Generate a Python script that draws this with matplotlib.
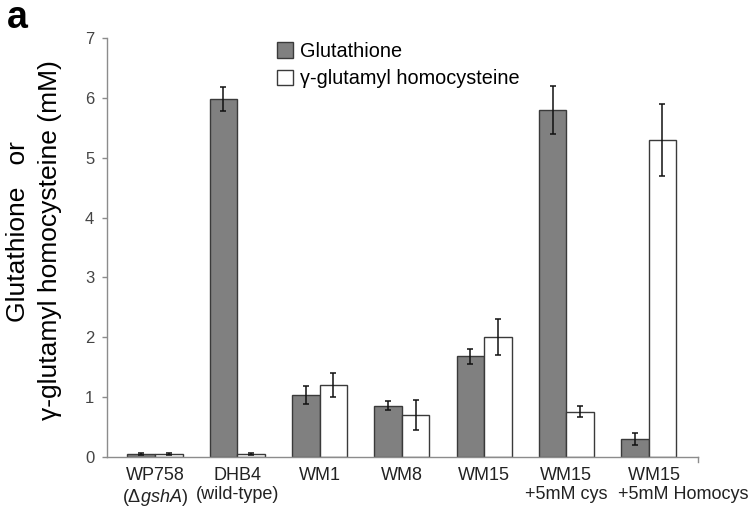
import matplotlib
matplotlib.use("Agg")
import matplotlib.pyplot as plt
import matplotlib.transforms as mtransforms
import numpy as np

plt.rcParams['font.family'] = ['Liberation Sans', 'DejaVu Sans']
plt.rcParams['mathtext.fontset'] = 'custom'
plt.rcParams['mathtext.it'] = 'Liberation Sans:italic'
plt.rcParams['mathtext.rm'] = 'Liberation Sans'

categories = ["WP758\n(Δ$\\it{gshA}$)", "DHB4\n(wild-type)", "WM1", "WM8", "WM15",
              "WM15\n+5mM cys", "  WM15\n+5mM Homocys"]
glutathione = [0.05, 5.98, 1.03, 0.86, 1.68, 5.80, 0.30]
glutathione_err = [0.02, 0.20, 0.15, 0.08, 0.12, 0.40, 0.10]
homocysteine = [0.05, 0.05, 1.20, 0.70, 2.00, 0.76, 5.30]
homocysteine_err = [0.01, 0.01, 0.20, 0.25, 0.30, 0.09, 0.60]
yticks = [0, 1, 2, 3, 4, 5, 6, 7]

fig = plt.figure(figsize=(7.55, 5.08), dpi=100)
ax = fig.add_axes([107/755, 1-457/508, (698-107)/755, (457-38)/508])

x = np.arange(len(categories))
w = 0.335
edge = '#3a3a3a'
ax.bar(x - w/2, glutathione, w, color='#808080', edgecolor=edge, linewidth=1.0,
       label='Glutathione', zorder=2)
ax.bar(x + w/2, homocysteine, w, color='white', edgecolor=edge, linewidth=1.0,
       label='γ-glutamyl homocysteine', zorder=2)
ax.errorbar(x - w/2, glutathione, yerr=glutathione_err, fmt='none', ecolor='#111111',
            elinewidth=1.1, capsize=2.3, capthick=1.1, zorder=3)
ax.errorbar(x + w/2, homocysteine, yerr=homocysteine_err, fmt='none', ecolor='#111111',
            elinewidth=1.1, capsize=2.3, capthick=1.1, zorder=3)

ax.set_xlim(-0.583, 6.6)
ax.set_ylim(0, 7)
ax.set_yticks(yticks)
ax.set_yticklabels([str(t) for t in yticks])
ax.set_xticks(x)
ax.set_xticklabels(categories)

for s in ['top', 'right']:
    ax.spines[s].set_visible(False)
for s in ['left', 'bottom']:
    ax.spines[s].set_color('#8c8c8c')
    ax.spines[s].set_linewidth(1.0)

ax.tick_params(axis='y', length=3.6, width=1.0, color='#8c8c8c', pad=5.5,
               labelsize=12, labelcolor='#444444')
ax.tick_params(axis='x', length=0, pad=7, labelsize=13, labelcolor='#222222')

labels = ax.get_xticklabels()
last = labels[-1]
last.set_horizontalalignment('left')
last.set_multialignment('left')
offset = mtransforms.ScaledTranslation(-31/100, 0, fig.dpi_scale_trans)
last.set_transform(last.get_transform() + offset)
for lab in labels[:-1]:
    lab.set_multialignment('center')

# end tick on x axis
ax.plot([1, 1], [0, -0.013], transform=ax.transAxes, color='#8c8c8c', lw=1.0,
        clip_on=False)

leg = ax.legend(loc='upper left', bbox_to_anchor=(277/755, 1-42/508),
                bbox_transform=fig.transFigure, frameon=False, fontsize=14.3,
                handlelength=0.82, handleheight=0.82, handletextpad=0.35,
                labelspacing=0.42, borderpad=0, borderaxespad=0)

fig.text(18/755, 1-232/508, 'Glutathione   or', rotation=90, ha='center',
         va='center', fontsize=19)
fig.text(50/755, 1-240/508, 'γ-glutamyl homocysteine (mM)', rotation=90,
         ha='center', va='center', fontsize=19)
fig.text(7/755, 1-28/508, 'a', fontsize=27, fontweight='bold', ha='left',
         va='baseline')

fig.savefig('out.png', dpi=100)
